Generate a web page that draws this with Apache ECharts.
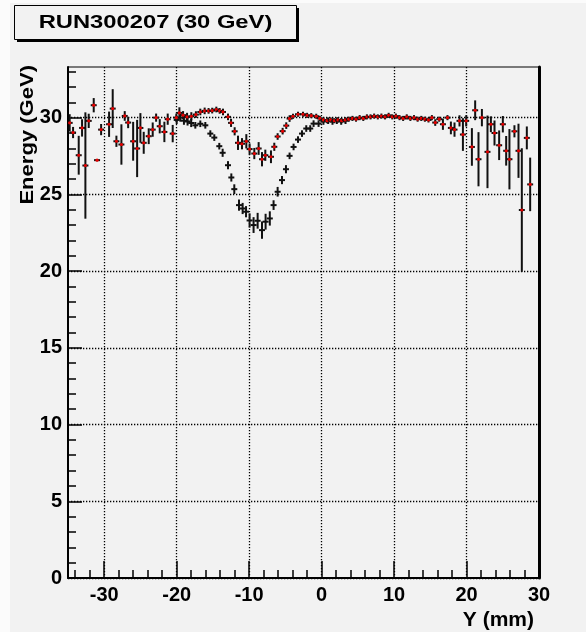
<!DOCTYPE html>
<html>
<head>
<meta charset="utf-8">
<script src="https://cdn.jsdelivr.net/npm/echarts@6/dist/echarts.min.js"></script>
<style>
html,body{margin:0;padding:0;background:#f2f2f2;}
#chart{width:586px;height:632px;}
</style>
</head>
<body>
<div id="chart"></div>
<script>
// ---- data: [Y (mm), Energy (GeV), error (GeV)] ----
const titleText = 'RUN300207 (30 GeV)';
const xAxisName = 'Y (mm)';
const yAxisName = 'Energy (GeV)';
const xMajorTicks = [-30, -20, -10, 0, 10, 20, 30];
const yMajorTicks = [0, 5, 10, 15, 20, 25, 30];
const xMinorTicks = [-34, -32, -28, -26, -24, -22, -18, -16, -14, -12, -8, -6, -4, -2, 2, 4, 6, 8, 12, 14, 16, 18, 22, 24, 26, 28];
const yMinorTicks = [1, 2, 3, 4, 6, 7, 8, 9, 11, 12, 13, 14, 16, 17, 18, 19, 21, 22, 23, 24, 26, 27, 28, 29, 31, 32, 33];

// series with red markers
const redPoints = [
  [-34.77, 29.66, 0.5], [-34.30, 29.03, 0.3], [-33.52, 27.55, 1.2], [-33.06, 29.33, 0.5],
  [-32.60, 26.88, 3.4], [-32.14, 29.79, 0.4], [-31.45, 30.81, 0.4], [-30.99, 27.23, 0.0],
  [-30.43, 29.22, 0.3], [-29.33, 29.57, 0.76], [-28.83, 30.59, 1.2], [-28.32, 28.46, 0.3],
  [-27.63, 28.25, 1.25], [-27.17, 30.11, 0.25], [-26.70, 29.68, 0.3], [-26.01, 28.46, 1.2],
  [-25.46, 27.99, 1.8], [-25.01, 29.33, 0.9], [-24.55, 28.36, 0.65], [-23.86, 28.79, 0.45],
  [-23.31, 29.22, 0.4], [-22.84, 30.00, 0.2], [-22.34, 29.44, 0.4], [-21.70, 29.07, 0.6],
  [-21.24, 29.90, 0.3], [-20.55, 28.96, 0.5], [-20.05, 30.00, 0.2], [-19.63, 30.31, 0.3],
  [-19.12, 30.16, 0.2], [-18.57, 30.05, 0.2], [-17.98, 30.09, 0.2], [-17.35, 30.20, 0.15],
  [-16.74, 30.37, 0.15], [-16.14, 30.44, 0.15], [-15.60, 30.44, 0.12], [-15.10, 30.46, 0.12],
  [-14.53, 30.53, 0.12], [-14.07, 30.44, 0.12], [-13.61, 30.37, 0.15], [-12.92, 30.05, 0.15],
  [-12.50, 29.66, 0.2], [-12.00, 29.11, 0.2], [-11.54, 28.36, 0.4], [-10.99, 28.30, 0.3],
  [-10.39, 28.46, 0.4], [-9.94, 27.95, 0.3], [-9.29, 27.66, 0.3], [-8.69, 27.99, 0.35],
  [-8.23, 27.29, 0.4], [-7.77, 27.55, 0.3], [-6.99, 27.45, 0.35], [-6.53, 28.10, 0.2],
  [-6.07, 28.77, 0.15], [-5.38, 29.12, 0.15], [-4.88, 29.48, 0.15], [-4.42, 29.94, 0.15],
  [-3.95, 30.09, 0.1], [-3.26, 30.22, 0.1], [-2.57, 30.22, 0.1], [-2.00, 30.15, 0.1],
  [-1.43, 30.13, 0.1], [-0.74, 30.09, 0.1], [-0.25, 29.95, 0.1], [0.25, 29.85, 0.1],
  [0.75, 29.80, 0.1], [1.25, 29.85, 0.1], [1.75, 29.80, 0.1], [2.25, 29.85, 0.1],
  [2.75, 29.80, 0.1], [3.25, 29.85, 0.1], [3.75, 29.90, 0.1], [4.25, 29.95, 0.1],
  [4.75, 29.90, 0.1], [5.25, 30.00, 0.1], [5.75, 29.95, 0.1], [6.25, 30.05, 0.1],
  [6.75, 30.05, 0.1], [7.25, 30.10, 0.1], [7.75, 30.05, 0.1], [8.25, 30.10, 0.1],
  [8.75, 30.05, 0.1], [9.25, 30.15, 0.1], [9.75, 30.05, 0.1], [10.25, 30.10, 0.1],
  [10.75, 30.00, 0.1], [11.25, 29.95, 0.1], [11.75, 30.05, 0.1], [12.25, 29.95, 0.1],
  [12.75, 30.00, 0.1], [13.25, 29.90, 0.1], [13.75, 29.95, 0.1], [14.25, 29.90, 0.1],
  [14.75, 29.85, 0.1], [15.22, 30.00, 0.1], [15.68, 29.68, 0.15], [16.23, 29.90, 0.1],
  [16.74, 29.57, 0.3], [17.37, 30.00, 0.1], [17.84, 29.33, 0.35], [18.34, 29.22, 0.4],
  [19.03, 29.79, 0.3], [19.50, 28.90, 1.0], [19.95, 29.79, 0.3], [20.74, 28.09, 1.16],
  [21.19, 30.48, 0.58], [21.65, 27.29, 1.7], [22.12, 30.00, 0.5], [22.89, 27.77, 2.3],
  [23.36, 29.57, 0.45], [23.86, 29.00, 0.75], [24.50, 28.20, 0.9], [25.01, 29.57, 0.47],
  [25.47, 27.84, 0.9], [25.92, 27.29, 1.9], [26.61, 29.11, 0.33], [27.17, 27.84, 1.7],
  [27.63, 23.98, 3.96], [28.32, 28.68, 0.68], [28.78, 25.65, 1.68]
];

// series with black markers only
const blackPoints = [
  [-20.00, 29.85, 0.2], [-19.50, 30.00, 0.2], [-19.00, 29.80, 0.2], [-18.50, 29.75, 0.2],
  [-18.00, 29.65, 0.2], [-17.43, 29.50, 0.15], [-16.74, 29.60, 0.15], [-16.05, 29.50, 0.15],
  [-15.36, 28.96, 0.15], [-14.81, 28.70, 0.15], [-14.12, 28.14, 0.15], [-13.66, 27.71, 0.2],
  [-12.92, 26.90, 0.2], [-12.46, 26.10, 0.2], [-12.05, 25.34, 0.25], [-11.40, 24.30, 0.3],
  [-10.90, 24.08, 0.3], [-10.43, 23.87, 0.3], [-9.94, 23.30, 0.4], [-9.39, 23.00, 0.45],
  [-8.83, 23.28, 0.45], [-8.23, 22.67, 0.5], [-7.73, 23.22, 0.45], [-7.15, 23.43, 0.4],
  [-6.63, 24.30, 0.25], [-6.07, 25.17, 0.25], [-5.47, 25.93, 0.2], [-4.92, 26.64, 0.2],
  [-4.42, 27.51, 0.15], [-3.87, 28.09, 0.15], [-3.26, 28.57, 0.15], [-2.71, 28.96, 0.15],
  [-2.12, 29.29, 0.15], [-1.57, 29.29, 0.15], [-1.11, 29.61, 0.15], [-0.42, 29.61, 0.15],
  [0.25, 29.75, 0.15], [0.90, 29.80, 0.15], [1.50, 29.75, 0.15], [2.10, 29.80, 0.15],
  [2.70, 29.75, 0.15], [3.30, 29.80, 0.15]
];

const FONT = 'Liberation Sans, Arial, Helvetica, sans-serif';

function makeRender(withDot) {
  return function (params, api) {
    const x = api.value(0), y = api.value(1), e = api.value(2);
    const c = api.coord([x, y]);
    const top = api.coord([x, y + e]);
    const bot = api.coord([x, y - e]);
    const children = [
      { type: 'line', shape: { x1: c[0], y1: top[1] - 1, x2: c[0], y2: bot[1] + 1 },
        style: { stroke: '#111', lineWidth: 2 } },
      { type: 'line', shape: { x1: c[0] - 3, y1: c[1], x2: c[0] + 3, y2: c[1] },
        style: { stroke: '#111', lineWidth: 2 } }
    ];
    if (withDot) {
      children.push({ type: 'circle', shape: { cx: c[0], cy: c[1], r: 1.6 }, style: { fill: '#e60000' } });
    }
    return { type: 'group', children: children };
  };
}

const chart = echarts.init(document.getElementById('chart'));
const axisLabelStyle = { color: '#000', fontSize: 20, fontWeight: 'bold', fontFamily: FONT };
const gridDots = { color: '#000', width: 1.3, type: [1.3, 1.7] };

chart.setOption({
  backgroundColor: '#f2f2f2',
  animation: false,
  grid: { left: 68, right: 47, top: 67, bottom: 54, show: true, borderColor: '#000', borderWidth: 1, backgroundColor: 'transparent' },
  xAxis: [
    {
      type: 'value', min: -35, max: 30, position: 'bottom',
      axisLine: { show: true, onZero: false, lineStyle: { color: '#000', width: 2 } },
      axisTick: { show: true, inside: true, length: 17, customValues: xMajorTicks, lineStyle: { color: '#000', width: 1.5 } },
      axisLabel: Object.assign({ margin: 7, customValues: xMajorTicks, showMinLabel: true, showMaxLabel: true }, axisLabelStyle),
      splitLine: { show: true, lineStyle: gridDots }
    },
    {
      type: 'value', min: -35, max: 30, position: 'bottom',
      axisLine: { show: false, onZero: false },
      axisTick: { show: true, inside: true, length: 8, customValues: xMinorTicks, lineStyle: { color: '#000', width: 1.5 } },
      axisLabel: { show: false },
      splitLine: { show: false }
    }
  ],
  yAxis: [
    {
      type: 'value', min: 0, max: 33.3, position: 'left',
      axisLine: { show: true, onZero: false, lineStyle: { color: '#000', width: 2 } },
      axisTick: { show: true, inside: true, length: 14, customValues: yMajorTicks, lineStyle: { color: '#000', width: 1.5 } },
      axisLabel: Object.assign({ margin: 6, customValues: yMajorTicks }, axisLabelStyle),
      splitLine: { show: true, lineStyle: gridDots }
    },
    {
      type: 'value', min: 0, max: 33.3, position: 'left',
      axisLine: { show: false, onZero: false },
      axisTick: { show: true, inside: true, length: 8, customValues: yMinorTicks, lineStyle: { color: '#000', width: 1.5 } },
      axisLabel: { show: false },
      splitLine: { show: false }
    },
    {
      type: 'value', min: 0, max: 33.3, position: 'right',
      axisLine: { show: true, onZero: false, lineStyle: { color: '#000', width: 3 } },
      axisTick: { show: false }, axisLabel: { show: false }, splitLine: { show: false }
    }
  ],
  series: [
    {
      type: 'custom', name: 'black', xAxisIndex: 0, yAxisIndex: 0,
      renderItem: makeRender(false), data: blackPoints,
      encode: { x: 0, y: 1 }, clip: true, z: 3
    },
    {
      type: 'custom', name: 'red', xAxisIndex: 0, yAxisIndex: 0,
      renderItem: makeRender(true), data: redPoints,
      encode: { x: 0, y: 1 }, clip: true, z: 4
    }
  ],
  graphic: [
    { type: 'rect', shape: { x: 0, y: 0, width: 10, height: 632 }, style: { fill: '#fbfbfb' }, silent: true },
    { type: 'rect', shape: { x: 0, y: 0, width: 586, height: 3 }, style: { fill: '#fbfbfb' }, silent: true },
    { type: 'rect', shape: { x: 17, y: 8, width: 282, height: 34 }, style: { fill: '#000' }, silent: true },
    { type: 'rect', shape: { x: 14.5, y: 5.5, width: 282, height: 34 }, style: { fill: '#f2f2f2', stroke: '#000', lineWidth: 1 }, silent: true },
    { type: 'text', x: 155.5, y: 23, scaleX: 1.25,
      style: { text: titleText, fill: '#000', font: 'bold 19px ' + FONT, textAlign: 'center', textVerticalAlign: 'middle' } },
    { type: 'text', x: 28, y: 65, rotation: Math.PI / 2, scaleX: 1.16,
      style: { text: yAxisName, fill: '#000', font: 'bold 19px ' + FONT, textAlign: 'right', textVerticalAlign: 'middle' } },
    { type: 'text', x: 534, y: 620,
      style: { text: xAxisName, fill: '#000', font: 'bold 21px ' + FONT, textAlign: 'right', textVerticalAlign: 'middle' } }
  ]
});
</script>
</body>
</html>
